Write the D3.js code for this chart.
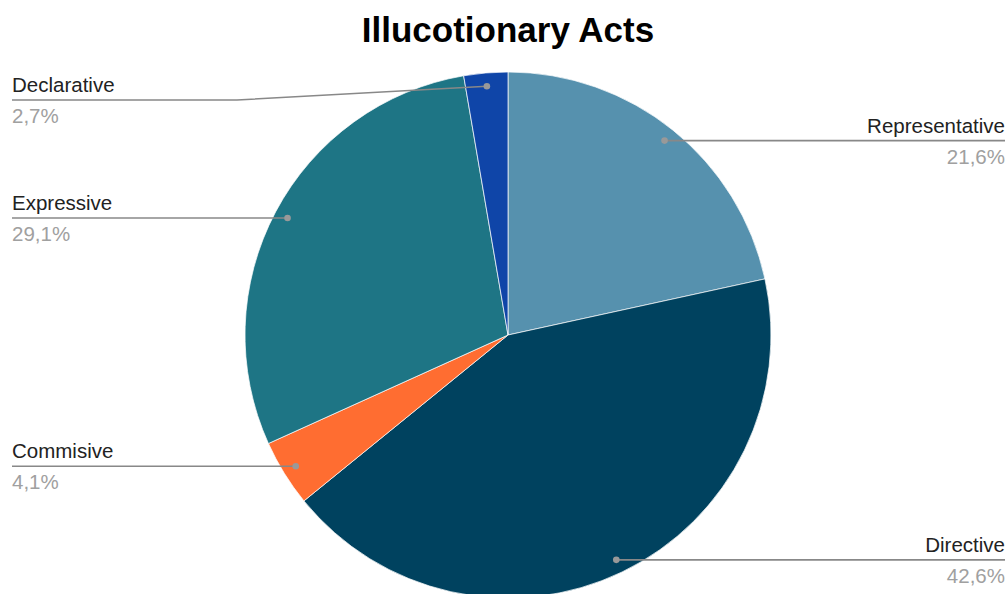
<!DOCTYPE html>
<html>
<head>
<meta charset="utf-8">
<script src="https://cdn.jsdelivr.net/npm/d3@7"></script>
<style>
  body { margin: 0; background: #fff; }
  text { font-family: "Liberation Sans", Arial, sans-serif; }
</style>
</head>
<body>
<div id="container"></div>
<script>
let w = 1008;
let h = 594;

// DATA
let categories = ["Representative", "Directive", "Commisive", "Expressive", "Declarative"];
let values = [21.6, 42.6, 4.1, 29.1, 2.7];
let valueLabels = ["21,6%", "42,6%", "4,1%", "29,1%", "2,7%"];
let colors = ["#5691ae", "#00425f", "#ff6d31", "#1e7585", "#0f45a8"];

let cx = 508, cy = 335, r = 263;

let viz = d3.select("#container").append("svg")
    .attr("width", w)
    .attr("height", h)
    .style("display", "block")
;

viz.append("text")
  .attr("x", 508)
  .attr("y", 42)
  .attr("text-anchor", "middle")
  .attr("font-size", 35)
  .attr("font-weight", "bold")
  .attr("fill", "#000")
  .text("Illucotionary Acts");

let data = categories.map(function(c, i){
  return {name: c, value: values[i], label: valueLabels[i], color: colors[i]};
});

let pie = d3.pie().sort(null).value(function(d){ return d.value; });
let arcs = pie(data);
let arcMaker = d3.arc().innerRadius(0).outerRadius(r);

let g = viz.append("g").attr("transform", "translate(" + cx + "," + cy + ")");

g.selectAll(".slice").data(arcs).enter()
  .append("path")
    .attr("class", "slice")
    .attr("d", arcMaker)
    .attr("fill", function(d){ return d.data.color; })
    .attr("stroke", "#fff")
    .attr("stroke-width", 0.7)
;

// LABELS
let dotArc = d3.arc().innerRadius(r * 0.949).outerRadius(r * 0.949);
let labelG = viz.append("g");

arcs.forEach(function(d){
  let p = dotArc.centroid(d);
  let dx = cx + p[0], dy = cy + p[1];
  let mid = (d.startAngle + d.endAngle) / 2;
  let right = mid < Math.PI;
  let ly = Math.max(dy, 100);
  let xEnd = right ? 1005 : 12;

  let pts = [[dx, dy]];
  if (ly !== dy) pts.push([237, ly]);
  pts.push([xEnd, ly]);

  labelG.append("path")
    .attr("d", d3.line()(pts))
    .attr("fill", "none")
    .attr("stroke", "#888")
    .attr("stroke-width", 1.6);

  labelG.append("circle")
    .attr("cx", dx).attr("cy", dy).attr("r", 3.3)
    .attr("fill", "#999");

  labelG.append("text")
    .attr("x", xEnd).attr("y", ly - 8)
    .attr("text-anchor", right ? "end" : "start")
    .attr("font-size", 20.5)
    .attr("fill", "#222")
    .text(d.data.name);

  labelG.append("text")
    .attr("x", xEnd).attr("y", ly + 23)
    .attr("text-anchor", right ? "end" : "start")
    .attr("font-size", 20.5)
    .attr("fill", "#a0a0a0")
    .text(d.data.label);
});
</script>
</body>
</html>
